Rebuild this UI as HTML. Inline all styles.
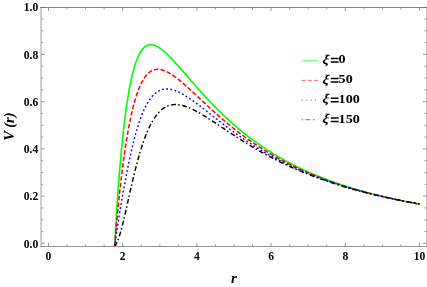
<!DOCTYPE html>
<html><head><meta charset="utf-8"><title>V(r)</title>
<style>
html,body{margin:0;padding:0;background:#fff;}
body{width:427px;height:287px;overflow:hidden;font-family:"Liberation Serif",serif;}
svg{display:block;}
svg text{font-family:"Liberation Serif",serif;font-weight:bold;fill:#000;}
</style></head><body>
<svg width="427" height="287" viewBox="0 0 427 287">
<rect x="0" y="0" width="427" height="287" fill="#ffffff"/>
<defs><clipPath id="plot"><rect x="41.3" y="7.4" width="385.0" height="239.0"/></clipPath><filter id="gs" x="0" y="0" width="427" height="287" filterUnits="userSpaceOnUse" color-interpolation-filters="sRGB"><feColorMatrix type="saturate" values="1"/></filter></defs>
<g clip-path="url(#plot)" fill="none" stroke-width="1.5" stroke-linejoin="round">
<path d="M114.70,246.40 L114.90,242.44 L115.11,238.57 L115.31,234.79 L115.51,231.10 L115.71,227.50 L115.92,223.97 L116.12,220.52 L116.32,217.15 L116.53,213.85 L116.73,210.61 L116.93,207.44 L117.13,204.33 L117.34,201.29 L117.54,198.30 L117.74,195.37 L117.94,192.50 L118.15,189.67 L118.35,186.90 L118.55,184.18 L118.76,181.51 L118.96,178.88 L119.16,176.31 L119.36,173.77 L119.57,171.28 L119.77,168.83 L119.97,166.42 L120.18,164.05 L120.38,161.72 L120.58,159.43 L120.78,157.18 L120.99,154.96 L121.19,152.78 L121.39,150.64 L121.59,148.53 L121.80,146.45 L122.00,144.41 L122.20,142.39 L122.41,140.42 L122.61,138.47 L122.81,136.55 L123.01,134.67 L123.22,132.81 L123.42,130.99 L123.62,129.19 L123.83,127.42 L124.03,125.68 L124.23,123.97 L124.43,122.29 L124.64,120.63 L124.84,119.00 L125.04,117.40 L125.24,115.82 L125.45,114.27 L125.65,112.74 L125.85,111.24 L126.06,109.76 L126.26,108.31 L126.46,106.88 L126.66,105.47 L126.87,104.09 L127.07,102.73 L127.27,101.40 L127.48,100.08 L127.68,98.79 L127.88,97.52 L128.08,96.28 L128.29,95.05 L128.49,93.84 L128.69,92.66 L128.89,91.50 L129.10,90.35 L129.30,89.23 L129.50,88.13 L129.71,87.04 L129.91,85.98 L130.11,84.93 L130.31,83.91 L130.52,82.90 L130.72,81.91 L130.92,80.94 L131.13,79.99 L131.33,79.05 L131.53,78.14 L131.73,77.24 L131.94,76.35 L132.14,75.49 L132.34,74.64 L132.54,73.80 L132.75,72.99 L132.95,72.18 L133.15,71.40 L133.36,70.63 L133.56,69.88 L133.76,69.14 L133.96,68.41 L134.17,67.70 L134.37,67.01 L134.57,66.33 L134.78,65.66 L134.98,65.01 L135.18,64.37 L135.38,63.75 L135.59,63.13 L135.79,62.54 L135.99,61.95 L136.19,61.38 L136.40,60.82 L136.60,60.27 L136.80,59.74 L137.01,59.22 L137.21,58.71 L137.41,58.21 L137.61,57.72 L137.82,57.25 L138.02,56.78 L138.22,56.33 L138.43,55.89 L138.63,55.46 L138.83,55.04 L139.03,54.63 L139.24,54.23 L139.44,53.84 L139.64,53.46 L139.84,53.10 L140.05,52.74 L140.25,52.39 L140.45,52.05 L140.66,51.72 L140.86,51.40 L141.06,51.09 L141.26,50.79 L141.47,50.49 L141.67,50.21 L141.87,49.93 L142.08,49.67 L142.28,49.41 L142.48,49.16 L142.68,48.91 L142.89,48.68 L143.09,48.45 L143.29,48.23 L143.49,48.02 L143.70,47.82 L143.90,47.62 L144.10,47.43 L144.31,47.25 L144.51,47.08 L144.71,46.91 L144.91,46.75 L145.12,46.60 L145.32,46.45 L145.52,46.31 L145.73,46.17 L145.93,46.05 L146.13,45.92 L146.33,45.81 L146.54,45.70 L146.74,45.60 L146.94,45.50 L147.14,45.41 L147.35,45.32 L147.55,45.24 L147.75,45.17 L147.96,45.10 L148.16,45.04 L148.36,44.98 L148.56,44.92 L148.77,44.88 L148.97,44.83 L149.17,44.80 L149.38,44.76 L149.58,44.73 L149.78,44.71 L149.98,44.69 L150.19,44.68 L150.39,44.67 L150.59,44.66 L150.79,44.66 L151.00,44.66 L151.20,44.67 L151.40,44.68 L151.61,44.70 L151.81,44.72 L152.01,44.74 L152.21,44.77 L152.42,44.80 L152.62,44.84 L152.82,44.88 L153.03,44.92 L153.23,44.97 L153.43,45.02 L153.63,45.07 L153.84,45.13 L154.04,45.19 L154.24,45.25 L154.44,45.32 L154.65,45.39 L154.85,45.47 L155.05,45.54 L155.26,45.62 L155.46,45.71 L155.66,45.79 L155.86,45.88 L156.07,45.97 L156.27,46.07 L156.47,46.16 L156.68,46.26 L156.88,46.37 L157.08,46.47 L157.28,46.58 L157.49,46.69 L157.69,46.80 L157.89,46.92 L158.09,47.04 L158.30,47.16 L158.50,47.28 L158.70,47.40 L158.91,47.53 L159.11,47.66 L159.31,47.79 L159.51,47.93 L159.72,48.06 L159.92,48.20 L160.12,48.34 L160.33,48.48 L160.53,48.63 L160.73,48.77 L160.93,48.92 L161.14,49.07 L161.34,49.22 L161.54,49.38 L161.74,49.53 L161.95,49.69 L162.15,49.85 L162.35,50.01 L162.56,50.17 L162.76,50.33 L162.96,50.50 L163.16,50.67 L163.37,50.83 L163.57,51.00 L163.77,51.18 L163.98,51.35 L164.18,51.52 L164.38,51.70 L164.58,51.88 L164.79,52.06 L164.99,52.24 L165.19,52.42 L165.39,52.60 L165.60,52.78 L165.80,52.97 L166.00,53.16 L166.21,53.34 L166.41,53.53 L166.61,53.72 L166.81,53.91 L167.02,54.11 L167.22,54.30 L168.06,55.12 L168.91,55.95 L169.75,56.80 L170.59,57.66 L171.44,58.54 L172.28,59.43 L173.13,60.33 L173.97,61.24 L174.81,62.16 L175.66,63.09 L176.50,64.02 L177.34,64.96 L178.19,65.91 L179.03,66.87 L179.88,67.82 L180.72,68.79 L181.56,69.75 L182.41,70.72 L183.25,71.69 L184.09,72.66 L184.94,73.64 L185.78,74.61 L186.63,75.58 L187.47,76.56 L188.31,77.53 L189.16,78.51 L190.00,79.48 L190.84,80.45 L191.69,81.42 L192.53,82.39 L193.38,83.36 L194.22,84.32 L195.06,85.28 L195.91,86.24 L196.75,87.20 L197.59,88.15 L198.44,89.10 L199.28,90.04 L200.13,90.99 L200.97,91.93 L201.81,92.86 L202.66,93.79 L203.50,94.72 L204.34,95.64 L205.19,96.55 L206.03,97.47 L206.88,98.37 L207.72,99.28 L208.56,100.18 L209.41,101.07 L210.25,101.96 L211.09,102.84 L211.94,103.72 L212.78,104.59 L213.63,105.46 L214.47,106.33 L215.31,107.18 L216.16,108.04 L217.00,108.89 L217.84,109.73 L218.69,110.56 L219.53,111.40 L220.38,112.22 L221.22,113.04 L222.06,113.86 L222.91,114.67 L223.75,115.47 L224.59,116.27 L225.44,117.06 L226.28,117.85 L227.13,118.64 L227.97,119.41 L228.81,120.18 L229.66,120.95 L230.50,121.71 L231.34,122.47 L232.19,123.22 L233.03,123.96 L233.88,124.70 L234.72,125.44 L235.56,126.16 L236.41,126.89 L237.25,127.61 L238.09,128.32 L238.94,129.03 L239.78,129.73 L240.63,130.42 L241.47,131.12 L242.31,131.80 L243.16,132.48 L244.00,133.16 L244.84,133.83 L245.69,134.50 L246.53,135.16 L247.38,135.82 L248.22,136.47 L249.06,137.11 L249.91,137.76 L250.75,138.39 L251.59,139.02 L252.44,139.65 L253.28,140.27 L254.13,140.89 L254.97,141.50 L255.81,142.11 L256.66,142.71 L257.50,143.31 L258.34,143.90 L259.19,144.49 L260.03,145.08 L260.88,145.66 L261.72,146.23 L262.56,146.81 L263.41,147.37 L264.25,147.93 L265.09,148.49 L265.94,149.05 L266.78,149.60 L267.63,150.14 L268.47,150.68 L269.31,151.22 L270.16,151.75 L271.00,152.28 L271.84,152.80 L272.69,153.32 L273.53,153.84 L274.38,154.35 L275.22,154.86 L276.06,155.37 L276.91,155.87 L277.75,156.36 L278.59,156.85 L279.44,157.34 L280.28,157.83 L281.13,158.31 L281.97,158.79 L282.81,159.26 L283.66,159.73 L284.50,160.20 L285.34,160.66 L286.19,161.12 L287.03,161.58 L287.88,162.03 L288.72,162.48 L289.56,162.93 L290.41,163.37 L291.25,163.81 L292.09,164.24 L292.94,164.67 L293.78,165.10 L294.63,165.53 L295.47,165.95 L296.31,166.37 L297.16,166.79 L298.00,167.20 L298.84,167.61 L299.69,168.02 L300.53,168.42 L301.38,168.82 L302.22,169.22 L303.06,169.61 L303.91,170.00 L304.75,170.39 L305.59,170.78 L306.44,171.16 L307.28,171.54 L308.13,171.92 L308.97,172.29 L309.81,172.66 L310.66,173.03 L311.50,173.40 L312.34,173.76 L313.19,174.12 L314.03,174.48 L314.88,174.83 L315.72,175.19 L316.56,175.54 L317.41,175.88 L318.25,176.23 L319.09,176.57 L319.94,176.91 L320.78,177.25 L321.63,177.58 L322.47,177.91 L323.31,178.24 L324.16,178.57 L325.00,178.90 L325.84,179.22 L326.69,179.54 L327.53,179.86 L328.38,180.17 L329.22,180.49 L330.06,180.80 L330.91,181.11 L331.75,181.41 L332.59,181.72 L333.44,182.02 L334.28,182.32 L335.13,182.62 L335.97,182.92 L336.81,183.21 L337.66,183.50 L338.50,183.79 L339.34,184.08 L340.19,184.37 L341.03,184.65 L341.88,184.93 L342.72,185.21 L343.56,185.49 L344.41,185.76 L345.25,186.04 L346.09,186.31 L346.94,186.58 L347.78,186.85 L348.63,187.12 L349.47,187.38 L350.31,187.64 L351.16,187.90 L352.00,188.16 L352.84,188.42 L353.69,188.68 L354.53,188.93 L355.38,189.18 L356.22,189.43 L357.06,189.68 L357.91,189.93 L358.75,190.17 L359.59,190.42 L360.44,190.66 L361.28,190.90 L362.13,191.14 L362.97,191.37 L363.81,191.61 L364.66,191.84 L365.50,192.08 L366.34,192.31 L367.19,192.54 L368.03,192.76 L368.88,192.99 L369.72,193.21 L370.56,193.44 L371.41,193.66 L372.25,193.88 L373.09,194.10 L373.94,194.32 L374.78,194.53 L375.63,194.75 L376.47,194.96 L377.31,195.17 L378.16,195.38 L379.00,195.59 L379.84,195.80 L380.69,196.00 L381.53,196.21 L382.38,196.41 L383.22,196.62 L384.06,196.82 L384.91,197.02 L385.75,197.21 L386.59,197.41 L387.44,197.61 L388.28,197.80 L389.13,198.00 L389.97,198.19 L390.81,198.38 L391.66,198.57 L392.50,198.76 L393.34,198.94 L394.19,199.13 L395.03,199.32 L395.88,199.50 L396.72,199.68 L397.56,199.86 L398.41,200.04 L399.25,200.22 L400.09,200.40 L400.94,200.58 L401.78,200.76 L402.63,200.93 L403.47,201.10 L404.31,201.28 L405.16,201.45 L406.00,201.62 L406.84,201.79 L407.69,201.96 L408.53,202.13 L409.38,202.29 L410.22,202.46 L411.06,202.62 L411.91,202.79 L412.75,202.95 L413.59,203.11 L414.44,203.27 L415.28,203.43 L416.13,203.59 L416.97,203.75 L417.81,203.90 L418.66,204.06 L419.50,204.21" stroke="#00ff00" stroke-width="1.6"/>
<path d="M114.70,246.40 L114.90,243.77 L115.11,241.18 L115.31,238.64 L115.51,236.15 L115.71,233.69 L115.92,231.28 L116.12,228.90 L116.32,226.57 L116.53,224.26 L116.73,222.00 L116.93,219.76 L117.13,217.56 L117.34,215.39 L117.54,213.24 L117.74,211.13 L117.94,209.04 L118.15,206.99 L118.35,204.95 L118.55,202.95 L118.76,200.97 L118.96,199.01 L119.16,197.08 L119.36,195.17 L119.57,193.28 L119.77,191.42 L119.97,189.58 L120.18,187.76 L120.38,185.96 L120.58,184.18 L120.78,182.42 L120.99,180.69 L121.19,178.97 L121.39,177.27 L121.59,175.60 L121.80,173.94 L122.00,172.30 L122.20,170.68 L122.41,169.08 L122.61,167.50 L122.81,165.93 L123.01,164.38 L123.22,162.86 L123.42,161.34 L123.62,159.85 L123.83,158.37 L124.03,156.91 L124.23,155.47 L124.43,154.05 L124.64,152.64 L124.84,151.25 L125.04,149.87 L125.24,148.51 L125.45,147.17 L125.65,145.85 L125.85,144.53 L126.06,143.24 L126.26,141.96 L126.46,140.70 L126.66,139.45 L126.87,138.22 L127.07,137.00 L127.27,135.80 L127.48,134.62 L127.68,133.45 L127.88,132.29 L128.08,131.15 L128.29,130.02 L128.49,128.91 L128.69,127.81 L128.89,126.73 L129.10,125.66 L129.30,124.60 L129.50,123.56 L129.71,122.53 L129.91,121.52 L130.11,120.52 L130.31,119.53 L130.52,118.56 L130.72,117.60 L130.92,116.66 L131.13,115.72 L131.33,114.80 L131.53,113.89 L131.73,113.00 L131.94,112.12 L132.14,111.25 L132.34,110.39 L132.54,109.55 L132.75,108.71 L132.95,107.89 L133.15,107.08 L133.36,106.29 L133.56,105.50 L133.76,104.73 L133.96,103.97 L134.17,103.22 L134.37,102.48 L134.57,101.75 L134.78,101.04 L134.98,100.33 L135.18,99.64 L135.38,98.95 L135.59,98.28 L135.79,97.62 L135.99,96.96 L136.19,96.32 L136.40,95.69 L136.60,95.07 L136.80,94.46 L137.01,93.86 L137.21,93.27 L137.41,92.68 L137.61,92.11 L137.82,91.55 L138.02,91.00 L138.22,90.45 L138.43,89.92 L138.63,89.39 L138.83,88.88 L139.03,88.37 L139.24,87.87 L139.44,87.38 L139.64,86.90 L139.84,86.43 L140.05,85.97 L140.25,85.51 L140.45,85.06 L140.66,84.63 L140.86,84.19 L141.06,83.77 L141.26,83.36 L141.47,82.95 L141.67,82.55 L141.87,82.16 L142.08,81.78 L142.28,81.40 L142.48,81.03 L142.68,80.67 L142.89,80.31 L143.09,79.97 L143.29,79.63 L143.49,79.29 L143.70,78.97 L143.90,78.65 L144.10,78.34 L144.31,78.03 L144.51,77.73 L144.71,77.44 L144.91,77.15 L145.12,76.87 L145.32,76.60 L145.52,76.33 L145.73,76.07 L145.93,75.82 L146.13,75.57 L146.33,75.32 L146.54,75.09 L146.74,74.86 L146.94,74.63 L147.14,74.41 L147.35,74.20 L147.55,73.99 L147.75,73.78 L147.96,73.59 L148.16,73.39 L148.36,73.21 L148.56,73.02 L148.77,72.85 L148.97,72.67 L149.17,72.51 L149.38,72.35 L149.58,72.19 L149.78,72.04 L149.98,71.89 L150.19,71.75 L150.39,71.61 L150.59,71.48 L150.79,71.35 L151.00,71.22 L151.20,71.10 L151.40,70.99 L151.61,70.88 L151.81,70.77 L152.01,70.67 L152.21,70.57 L152.42,70.47 L152.62,70.38 L152.82,70.30 L153.03,70.22 L153.23,70.14 L153.43,70.06 L153.63,69.99 L153.84,69.93 L154.04,69.86 L154.24,69.80 L154.44,69.75 L154.65,69.70 L154.85,69.65 L155.05,69.60 L155.26,69.56 L155.46,69.52 L155.66,69.49 L155.86,69.46 L156.07,69.43 L156.27,69.41 L156.47,69.38 L156.68,69.37 L156.88,69.35 L157.08,69.34 L157.28,69.33 L157.49,69.32 L157.69,69.32 L157.89,69.32 L158.09,69.32 L158.30,69.33 L158.50,69.34 L158.70,69.35 L158.91,69.36 L159.11,69.38 L159.31,69.40 L159.51,69.42 L159.72,69.45 L159.92,69.47 L160.12,69.50 L160.33,69.54 L160.53,69.57 L160.73,69.61 L160.93,69.65 L161.14,69.69 L161.34,69.73 L161.54,69.78 L161.74,69.83 L161.95,69.88 L162.15,69.94 L162.35,69.99 L162.56,70.05 L162.76,70.11 L162.96,70.17 L163.16,70.24 L163.37,70.30 L163.57,70.37 L163.77,70.44 L163.98,70.51 L164.18,70.59 L164.38,70.67 L164.58,70.74 L164.79,70.82 L164.99,70.91 L165.19,70.99 L165.39,71.08 L165.60,71.16 L165.80,71.25 L166.00,71.34 L166.21,71.44 L166.41,71.53 L166.61,71.63 L166.81,71.73 L167.02,71.82 L167.22,71.93 L168.06,72.36 L168.91,72.83 L169.75,73.31 L170.59,73.82 L171.44,74.35 L172.28,74.91 L173.13,75.48 L173.97,76.07 L174.81,76.67 L175.66,77.30 L176.50,77.93 L177.34,78.58 L178.19,79.25 L179.03,79.92 L179.88,80.61 L180.72,81.31 L181.56,82.02 L182.41,82.74 L183.25,83.46 L184.09,84.19 L184.94,84.94 L185.78,85.68 L186.63,86.44 L187.47,87.19 L188.31,87.96 L189.16,88.73 L190.00,89.50 L190.84,90.27 L191.69,91.05 L192.53,91.83 L193.38,92.62 L194.22,93.40 L195.06,94.19 L195.91,94.98 L196.75,95.77 L197.59,96.56 L198.44,97.35 L199.28,98.14 L200.13,98.93 L200.97,99.72 L201.81,100.51 L202.66,101.30 L203.50,102.09 L204.34,102.87 L205.19,103.66 L206.03,104.44 L206.88,105.23 L207.72,106.01 L208.56,106.78 L209.41,107.56 L210.25,108.33 L211.09,109.10 L211.94,109.87 L212.78,110.64 L213.63,111.40 L214.47,112.16 L215.31,112.91 L216.16,113.67 L217.00,114.42 L217.84,115.16 L218.69,115.91 L219.53,116.65 L220.38,117.38 L221.22,118.12 L222.06,118.84 L222.91,119.57 L223.75,120.29 L224.59,121.01 L225.44,121.72 L226.28,122.43 L227.13,123.14 L227.97,123.84 L228.81,124.54 L229.66,125.23 L230.50,125.92 L231.34,126.61 L232.19,127.29 L233.03,127.97 L233.88,128.64 L234.72,129.31 L235.56,129.97 L236.41,130.63 L237.25,131.29 L238.09,131.94 L238.94,132.59 L239.78,133.24 L240.63,133.88 L241.47,134.51 L242.31,135.14 L243.16,135.77 L244.00,136.39 L244.84,137.01 L245.69,137.63 L246.53,138.24 L247.38,138.84 L248.22,139.45 L249.06,140.04 L249.91,140.64 L250.75,141.23 L251.59,141.81 L252.44,142.40 L253.28,142.97 L254.13,143.55 L254.97,144.12 L255.81,144.68 L256.66,145.24 L257.50,145.80 L258.34,146.35 L259.19,146.90 L260.03,147.45 L260.88,147.99 L261.72,148.53 L262.56,149.06 L263.41,149.59 L264.25,150.12 L265.09,150.64 L265.94,151.16 L266.78,151.68 L267.63,152.19 L268.47,152.70 L269.31,153.20 L270.16,153.70 L271.00,154.20 L271.84,154.69 L272.69,155.18 L273.53,155.67 L274.38,156.15 L275.22,156.63 L276.06,157.10 L276.91,157.58 L277.75,158.04 L278.59,158.51 L279.44,158.97 L280.28,159.43 L281.13,159.88 L281.97,160.34 L282.81,160.78 L283.66,161.23 L284.50,161.67 L285.34,162.11 L286.19,162.54 L287.03,162.98 L287.88,163.41 L288.72,163.83 L289.56,164.25 L290.41,164.67 L291.25,165.09 L292.09,165.50 L292.94,165.91 L293.78,166.32 L294.63,166.73 L295.47,167.13 L296.31,167.53 L297.16,167.92 L298.00,168.32 L298.84,168.71 L299.69,169.09 L300.53,169.48 L301.38,169.86 L302.22,170.24 L303.06,170.62 L303.91,170.99 L304.75,171.36 L305.59,171.73 L306.44,172.09 L307.28,172.46 L308.13,172.82 L308.97,173.17 L309.81,173.53 L310.66,173.88 L311.50,174.23 L312.34,174.58 L313.19,174.93 L314.03,175.27 L314.88,175.61 L315.72,175.95 L316.56,176.28 L317.41,176.61 L318.25,176.95 L319.09,177.27 L319.94,177.60 L320.78,177.92 L321.63,178.24 L322.47,178.56 L323.31,178.88 L324.16,179.20 L325.00,179.51 L325.84,179.82 L326.69,180.13 L327.53,180.43 L328.38,180.74 L329.22,181.04 L330.06,181.34 L330.91,181.64 L331.75,181.93 L332.59,182.22 L333.44,182.52 L334.28,182.81 L335.13,183.09 L335.97,183.38 L336.81,183.66 L337.66,183.94 L338.50,184.22 L339.34,184.50 L340.19,184.78 L341.03,185.05 L341.88,185.32 L342.72,185.59 L343.56,185.86 L344.41,186.13 L345.25,186.39 L346.09,186.66 L346.94,186.92 L347.78,187.18 L348.63,187.43 L349.47,187.69 L350.31,187.94 L351.16,188.20 L352.00,188.45 L352.84,188.70 L353.69,188.94 L354.53,189.19 L355.38,189.44 L356.22,189.68 L357.06,189.92 L357.91,190.16 L358.75,190.40 L359.59,190.63 L360.44,190.87 L361.28,191.10 L362.13,191.33 L362.97,191.56 L363.81,191.79 L364.66,192.02 L365.50,192.24 L366.34,192.47 L367.19,192.69 L368.03,192.91 L368.88,193.13 L369.72,193.35 L370.56,193.57 L371.41,193.78 L372.25,194.00 L373.09,194.21 L373.94,194.42 L374.78,194.63 L375.63,194.84 L376.47,195.05 L377.31,195.26 L378.16,195.46 L379.00,195.67 L379.84,195.87 L380.69,196.07 L381.53,196.27 L382.38,196.47 L383.22,196.67 L384.06,196.86 L384.91,197.06 L385.75,197.25 L386.59,197.44 L387.44,197.63 L388.28,197.82 L389.13,198.01 L389.97,198.20 L390.81,198.39 L391.66,198.57 L392.50,198.76 L393.34,198.94 L394.19,199.12 L395.03,199.30 L395.88,199.48 L396.72,199.66 L397.56,199.84 L398.41,200.02 L399.25,200.19 L400.09,200.37 L400.94,200.54 L401.78,200.71 L402.63,200.88 L403.47,201.05 L404.31,201.22 L405.16,201.39 L406.00,201.56 L406.84,201.73 L407.69,201.89 L408.53,202.06 L409.38,202.22 L410.22,202.38 L411.06,202.54 L411.91,202.70 L412.75,202.86 L413.59,203.02 L414.44,203.18 L415.28,203.34 L416.13,203.49 L416.97,203.65 L417.81,203.80 L418.66,203.95 L419.50,204.11" stroke="#ff0000" stroke-width="1.5" stroke-dasharray="4.5 2.1"/>
<path d="M114.70,246.40 L114.90,244.79 L115.11,243.22 L115.31,241.68 L115.51,240.16 L115.71,238.67 L115.92,237.20 L116.12,235.75 L116.32,234.32 L116.53,232.91 L116.73,231.52 L116.93,230.15 L117.13,228.79 L117.34,227.44 L117.54,226.11 L117.74,224.78 L117.94,223.47 L118.15,222.17 L118.35,220.89 L118.55,219.61 L118.76,218.33 L118.96,217.07 L119.16,215.81 L119.36,214.57 L119.57,213.33 L119.77,212.09 L119.97,210.86 L120.18,209.64 L120.38,208.43 L120.58,207.22 L120.78,206.01 L120.99,204.82 L121.19,203.62 L121.39,202.44 L121.59,201.25 L121.80,200.08 L122.00,198.91 L122.20,197.74 L122.41,196.58 L122.61,195.42 L122.81,194.27 L123.01,193.12 L123.22,191.98 L123.42,190.84 L123.62,189.71 L123.83,188.59 L124.03,187.47 L124.23,186.35 L124.43,185.24 L124.64,184.14 L124.84,183.04 L125.04,181.95 L125.24,180.86 L125.45,179.78 L125.65,178.70 L125.85,177.63 L126.06,176.56 L126.26,175.50 L126.46,174.45 L126.66,173.40 L126.87,172.36 L127.07,171.33 L127.27,170.30 L127.48,169.28 L127.68,168.26 L127.88,167.25 L128.08,166.25 L128.29,165.26 L128.49,164.27 L128.69,163.28 L128.89,162.31 L129.10,161.34 L129.30,160.38 L129.50,159.42 L129.71,158.47 L129.91,157.53 L130.11,156.60 L130.31,155.67 L130.52,154.75 L130.72,153.84 L130.92,152.93 L131.13,152.03 L131.33,151.14 L131.53,150.26 L131.73,149.38 L131.94,148.51 L132.14,147.65 L132.34,146.79 L132.54,145.95 L132.75,145.11 L132.95,144.27 L133.15,143.45 L133.36,142.63 L133.56,141.82 L133.76,141.02 L133.96,140.22 L134.17,139.43 L134.37,138.65 L134.57,137.88 L134.78,137.11 L134.98,136.35 L135.18,135.60 L135.38,134.86 L135.59,134.12 L135.79,133.39 L135.99,132.67 L136.19,131.96 L136.40,131.25 L136.60,130.55 L136.80,129.86 L137.01,129.17 L137.21,128.50 L137.41,127.83 L137.61,127.16 L137.82,126.51 L138.02,125.86 L138.22,125.22 L138.43,124.58 L138.63,123.96 L138.83,123.34 L139.03,122.72 L139.24,122.12 L139.44,121.52 L139.64,120.92 L139.84,120.34 L140.05,119.76 L140.25,119.19 L140.45,118.63 L140.66,118.07 L140.86,117.52 L141.06,116.97 L141.26,116.44 L141.47,115.90 L141.67,115.38 L141.87,114.86 L142.08,114.35 L142.28,113.85 L142.48,113.35 L142.68,112.86 L142.89,112.37 L143.09,111.89 L143.29,111.42 L143.49,110.96 L143.70,110.50 L143.90,110.04 L144.10,109.59 L144.31,109.15 L144.51,108.72 L144.71,108.29 L144.91,107.87 L145.12,107.45 L145.32,107.04 L145.52,106.63 L145.73,106.23 L145.93,105.84 L146.13,105.45 L146.33,105.07 L146.54,104.69 L146.74,104.32 L146.94,103.96 L147.14,103.60 L147.35,103.24 L147.55,102.89 L147.75,102.55 L147.96,102.21 L148.16,101.88 L148.36,101.55 L148.56,101.23 L148.77,100.91 L148.97,100.60 L149.17,100.29 L149.38,99.99 L149.58,99.70 L149.78,99.40 L149.98,99.12 L150.19,98.84 L150.39,98.56 L150.59,98.29 L150.79,98.02 L151.00,97.76 L151.20,97.50 L151.40,97.25 L151.61,97.00 L151.81,96.76 L152.01,96.52 L152.21,96.28 L152.42,96.05 L152.62,95.83 L152.82,95.60 L153.03,95.39 L153.23,95.18 L153.43,94.97 L153.63,94.76 L153.84,94.56 L154.04,94.37 L154.24,94.18 L154.44,93.99 L154.65,93.81 L154.85,93.63 L155.05,93.45 L155.26,93.28 L155.46,93.11 L155.66,92.95 L155.86,92.79 L156.07,92.63 L156.27,92.48 L156.47,92.33 L156.68,92.19 L156.88,92.05 L157.08,91.91 L157.28,91.78 L157.49,91.64 L157.69,91.52 L157.89,91.39 L158.09,91.27 L158.30,91.16 L158.50,91.05 L158.70,90.94 L158.91,90.83 L159.11,90.73 L159.31,90.63 L159.51,90.53 L159.72,90.44 L159.92,90.35 L160.12,90.26 L160.33,90.18 L160.53,90.09 L160.73,90.02 L160.93,89.94 L161.14,89.87 L161.34,89.80 L161.54,89.73 L161.74,89.67 L161.95,89.61 L162.15,89.55 L162.35,89.50 L162.56,89.45 L162.76,89.40 L162.96,89.35 L163.16,89.31 L163.37,89.27 L163.57,89.23 L163.77,89.19 L163.98,89.16 L164.18,89.13 L164.38,89.10 L164.58,89.07 L164.79,89.05 L164.99,89.03 L165.19,89.01 L165.39,89.00 L165.60,88.98 L165.80,88.97 L166.00,88.96 L166.21,88.96 L166.41,88.95 L166.61,88.95 L166.81,88.95 L167.02,88.95 L167.22,88.96 L168.06,89.00 L168.91,89.07 L169.75,89.19 L170.59,89.33 L171.44,89.50 L172.28,89.71 L173.13,89.94 L173.97,90.20 L174.81,90.48 L175.66,90.79 L176.50,91.12 L177.34,91.47 L178.19,91.85 L179.03,92.24 L179.88,92.66 L180.72,93.09 L181.56,93.53 L182.41,94.00 L183.25,94.48 L184.09,94.97 L184.94,95.48 L185.78,96.00 L186.63,96.53 L187.47,97.07 L188.31,97.62 L189.16,98.19 L190.00,98.76 L190.84,99.34 L191.69,99.93 L192.53,100.53 L193.38,101.13 L194.22,101.74 L195.06,102.36 L195.91,102.98 L196.75,103.61 L197.59,104.24 L198.44,104.88 L199.28,105.52 L200.13,106.16 L200.97,106.81 L201.81,107.46 L202.66,108.11 L203.50,108.77 L204.34,109.43 L205.19,110.09 L206.03,110.75 L206.88,111.41 L207.72,112.07 L208.56,112.74 L209.41,113.40 L210.25,114.06 L211.09,114.73 L211.94,115.39 L212.78,116.05 L213.63,116.72 L214.47,117.38 L215.31,118.04 L216.16,118.70 L217.00,119.36 L217.84,120.02 L218.69,120.68 L219.53,121.33 L220.38,121.98 L221.22,122.64 L222.06,123.28 L222.91,123.93 L223.75,124.58 L224.59,125.22 L225.44,125.86 L226.28,126.50 L227.13,127.14 L227.97,127.77 L228.81,128.40 L229.66,129.03 L230.50,129.65 L231.34,130.28 L232.19,130.90 L233.03,131.51 L233.88,132.13 L234.72,132.74 L235.56,133.35 L236.41,133.95 L237.25,134.55 L238.09,135.15 L238.94,135.75 L239.78,136.34 L240.63,136.93 L241.47,137.51 L242.31,138.10 L243.16,138.67 L244.00,139.25 L244.84,139.82 L245.69,140.39 L246.53,140.96 L247.38,141.52 L248.22,142.08 L249.06,142.64 L249.91,143.19 L250.75,143.74 L251.59,144.28 L252.44,144.83 L253.28,145.36 L254.13,145.90 L254.97,146.43 L255.81,146.96 L256.66,147.49 L257.50,148.01 L258.34,148.53 L259.19,149.04 L260.03,149.55 L260.88,150.06 L261.72,150.57 L262.56,151.07 L263.41,151.57 L264.25,152.06 L265.09,152.55 L265.94,153.04 L266.78,153.53 L267.63,154.01 L268.47,154.49 L269.31,154.97 L270.16,155.44 L271.00,155.91 L271.84,156.37 L272.69,156.84 L273.53,157.30 L274.38,157.75 L275.22,158.21 L276.06,158.66 L276.91,159.10 L277.75,159.55 L278.59,159.99 L279.44,160.43 L280.28,160.86 L281.13,161.29 L281.97,161.72 L282.81,162.15 L283.66,162.57 L284.50,162.99 L285.34,163.41 L286.19,163.82 L287.03,164.23 L287.88,164.64 L288.72,165.05 L289.56,165.45 L290.41,165.85 L291.25,166.25 L292.09,166.64 L292.94,167.03 L293.78,167.42 L294.63,167.81 L295.47,168.19 L296.31,168.57 L297.16,168.95 L298.00,169.33 L298.84,169.70 L299.69,170.07 L300.53,170.44 L301.38,170.81 L302.22,171.17 L303.06,171.53 L303.91,171.89 L304.75,172.24 L305.59,172.59 L306.44,172.95 L307.28,173.29 L308.13,173.64 L308.97,173.98 L309.81,174.32 L310.66,174.66 L311.50,175.00 L312.34,175.33 L313.19,175.66 L314.03,175.99 L314.88,176.32 L315.72,176.64 L316.56,176.97 L317.41,177.29 L318.25,177.60 L319.09,177.92 L319.94,178.23 L320.78,178.55 L321.63,178.85 L322.47,179.16 L323.31,179.47 L324.16,179.77 L325.00,180.07 L325.84,180.37 L326.69,180.67 L327.53,180.96 L328.38,181.26 L329.22,181.55 L330.06,181.84 L330.91,182.12 L331.75,182.41 L332.59,182.69 L333.44,182.97 L334.28,183.25 L335.13,183.53 L335.97,183.81 L336.81,184.08 L337.66,184.35 L338.50,184.62 L339.34,184.89 L340.19,185.16 L341.03,185.42 L341.88,185.69 L342.72,185.95 L343.56,186.21 L344.41,186.47 L345.25,186.72 L346.09,186.98 L346.94,187.23 L347.78,187.48 L348.63,187.73 L349.47,187.98 L350.31,188.22 L351.16,188.47 L352.00,188.71 L352.84,188.95 L353.69,189.19 L354.53,189.43 L355.38,189.67 L356.22,189.91 L357.06,190.14 L357.91,190.37 L358.75,190.60 L359.59,190.83 L360.44,191.06 L361.28,191.29 L362.13,191.51 L362.97,191.74 L363.81,191.96 L364.66,192.18 L365.50,192.40 L366.34,192.62 L367.19,192.83 L368.03,193.05 L368.88,193.26 L369.72,193.47 L370.56,193.69 L371.41,193.90 L372.25,194.10 L373.09,194.31 L373.94,194.52 L374.78,194.72 L375.63,194.93 L376.47,195.13 L377.31,195.33 L378.16,195.53 L379.00,195.73 L379.84,195.92 L380.69,196.12 L381.53,196.31 L382.38,196.51 L383.22,196.70 L384.06,196.89 L384.91,197.08 L385.75,197.27 L386.59,197.46 L387.44,197.65 L388.28,197.83 L389.13,198.02 L389.97,198.20 L390.81,198.38 L391.66,198.56 L392.50,198.74 L393.34,198.92 L394.19,199.10 L395.03,199.28 L395.88,199.45 L396.72,199.63 L397.56,199.80 L398.41,199.97 L399.25,200.14 L400.09,200.31 L400.94,200.48 L401.78,200.65 L402.63,200.82 L403.47,200.99 L404.31,201.15 L405.16,201.32 L406.00,201.48 L406.84,201.64 L407.69,201.81 L408.53,201.97 L409.38,202.13 L410.22,202.29 L411.06,202.44 L411.91,202.60 L412.75,202.76 L413.59,202.91 L414.44,203.07 L415.28,203.22 L416.13,203.37 L416.97,203.53 L417.81,203.68 L418.66,203.83 L419.50,203.98" stroke="#0000ff" stroke-width="1.45" stroke-dasharray="1.8 2.4"/>
<path d="M114.70,246.40 L114.90,246.11 L115.11,245.81 L115.31,245.50 L115.51,245.17 L115.71,244.82 L115.92,244.47 L116.12,244.09 L116.32,243.70 L116.53,243.30 L116.73,242.88 L116.93,242.44 L117.13,241.99 L117.34,241.52 L117.54,241.04 L117.74,240.54 L117.94,240.02 L118.15,239.49 L118.35,238.94 L118.55,238.38 L118.76,237.80 L118.96,237.20 L119.16,236.60 L119.36,235.98 L119.57,235.34 L119.77,234.69 L119.97,234.03 L120.18,233.35 L120.38,232.67 L120.58,231.96 L120.78,231.25 L120.99,230.53 L121.19,229.79 L121.39,229.05 L121.59,228.29 L121.80,227.53 L122.00,226.75 L122.20,225.96 L122.41,225.17 L122.61,224.37 L122.81,223.56 L123.01,222.74 L123.22,221.91 L123.42,221.08 L123.62,220.24 L123.83,219.39 L124.03,218.54 L124.23,217.68 L124.43,216.82 L124.64,215.95 L124.84,215.08 L125.04,214.20 L125.24,213.32 L125.45,212.43 L125.65,211.54 L125.85,210.65 L126.06,209.76 L126.26,208.86 L126.46,207.96 L126.66,207.06 L126.87,206.15 L127.07,205.25 L127.27,204.34 L127.48,203.44 L127.68,202.53 L127.88,201.62 L128.08,200.71 L128.29,199.80 L128.49,198.90 L128.69,197.99 L128.89,197.08 L129.10,196.18 L129.30,195.27 L129.50,194.37 L129.71,193.46 L129.91,192.56 L130.11,191.66 L130.31,190.77 L130.52,189.87 L130.72,188.98 L130.92,188.09 L131.13,187.20 L131.33,186.32 L131.53,185.44 L131.73,184.56 L131.94,183.68 L132.14,182.81 L132.34,181.94 L132.54,181.08 L132.75,180.22 L132.95,179.36 L133.15,178.50 L133.36,177.65 L133.56,176.81 L133.76,175.97 L133.96,175.13 L134.17,174.30 L134.37,173.47 L134.57,172.65 L134.78,171.83 L134.98,171.01 L135.18,170.20 L135.38,169.40 L135.59,168.60 L135.79,167.80 L135.99,167.01 L136.19,166.23 L136.40,165.45 L136.60,164.67 L136.80,163.90 L137.01,163.14 L137.21,162.38 L137.41,161.63 L137.61,160.88 L137.82,160.14 L138.02,159.40 L138.22,158.67 L138.43,157.94 L138.63,157.22 L138.83,156.50 L139.03,155.79 L139.24,155.09 L139.44,154.39 L139.64,153.70 L139.84,153.01 L140.05,152.33 L140.25,151.66 L140.45,150.99 L140.66,150.32 L140.86,149.66 L141.06,149.01 L141.26,148.36 L141.47,147.72 L141.67,147.09 L141.87,146.46 L142.08,145.83 L142.28,145.21 L142.48,144.60 L142.68,143.99 L142.89,143.39 L143.09,142.80 L143.29,142.21 L143.49,141.62 L143.70,141.04 L143.90,140.47 L144.10,139.90 L144.31,139.34 L144.51,138.79 L144.71,138.24 L144.91,137.69 L145.12,137.15 L145.32,136.62 L145.52,136.09 L145.73,135.57 L145.93,135.05 L146.13,134.54 L146.33,134.03 L146.54,133.53 L146.74,133.04 L146.94,132.55 L147.14,132.07 L147.35,131.59 L147.55,131.11 L147.75,130.65 L147.96,130.18 L148.16,129.72 L148.36,129.27 L148.56,128.83 L148.77,128.38 L148.97,127.95 L149.17,127.52 L149.38,127.09 L149.58,126.67 L149.78,126.25 L149.98,125.84 L150.19,125.43 L150.39,125.03 L150.59,124.64 L150.79,124.25 L151.00,123.86 L151.20,123.48 L151.40,123.10 L151.61,122.73 L151.81,122.36 L152.01,122.00 L152.21,121.64 L152.42,121.29 L152.62,120.94 L152.82,120.60 L153.03,120.26 L153.23,119.92 L153.43,119.59 L153.63,119.27 L153.84,118.95 L154.04,118.63 L154.24,118.32 L154.44,118.01 L154.65,117.71 L154.85,117.41 L155.05,117.12 L155.26,116.83 L155.46,116.54 L155.66,116.26 L155.86,115.98 L156.07,115.71 L156.27,115.44 L156.47,115.17 L156.68,114.91 L156.88,114.65 L157.08,114.40 L157.28,114.15 L157.49,113.91 L157.69,113.67 L157.89,113.43 L158.09,113.19 L158.30,112.96 L158.50,112.74 L158.70,112.52 L158.91,112.30 L159.11,112.08 L159.31,111.87 L159.51,111.67 L159.72,111.46 L159.92,111.26 L160.12,111.07 L160.33,110.87 L160.53,110.68 L160.73,110.50 L160.93,110.31 L161.14,110.14 L161.34,109.96 L161.54,109.79 L161.74,109.62 L161.95,109.45 L162.15,109.29 L162.35,109.13 L162.56,108.97 L162.76,108.82 L162.96,108.67 L163.16,108.53 L163.37,108.38 L163.57,108.24 L163.77,108.11 L163.98,107.97 L164.18,107.84 L164.38,107.71 L164.58,107.59 L164.79,107.46 L164.99,107.35 L165.19,107.23 L165.39,107.12 L165.60,107.00 L165.80,106.90 L166.00,106.79 L166.21,106.69 L166.41,106.59 L166.61,106.49 L166.81,106.40 L167.02,106.31 L167.22,106.22 L168.06,105.88 L168.91,105.58 L169.75,105.32 L170.59,105.10 L171.44,104.92 L172.28,104.78 L173.13,104.68 L173.97,104.61 L174.81,104.57 L175.66,104.56 L176.50,104.59 L177.34,104.64 L178.19,104.72 L179.03,104.83 L179.88,104.96 L180.72,105.12 L181.56,105.30 L182.41,105.50 L183.25,105.72 L184.09,105.97 L184.94,106.23 L185.78,106.51 L186.63,106.81 L187.47,107.13 L188.31,107.46 L189.16,107.81 L190.00,108.17 L190.84,108.54 L191.69,108.93 L192.53,109.33 L193.38,109.75 L194.22,110.17 L195.06,110.61 L195.91,111.05 L196.75,111.50 L197.59,111.97 L198.44,112.44 L199.28,112.92 L200.13,113.41 L200.97,113.90 L201.81,114.40 L202.66,114.91 L203.50,115.42 L204.34,115.94 L205.19,116.46 L206.03,116.99 L206.88,117.52 L207.72,118.05 L208.56,118.59 L209.41,119.13 L210.25,119.68 L211.09,120.23 L211.94,120.78 L212.78,121.33 L213.63,121.89 L214.47,122.44 L215.31,123.00 L216.16,123.56 L217.00,124.12 L217.84,124.68 L218.69,125.25 L219.53,125.81 L220.38,126.37 L221.22,126.93 L222.06,127.50 L222.91,128.06 L223.75,128.62 L224.59,129.19 L225.44,129.75 L226.28,130.31 L227.13,130.87 L227.97,131.43 L228.81,131.99 L229.66,132.55 L230.50,133.10 L231.34,133.66 L232.19,134.21 L233.03,134.77 L233.88,135.32 L234.72,135.87 L235.56,136.41 L236.41,136.96 L237.25,137.50 L238.09,138.04 L238.94,138.58 L239.78,139.12 L240.63,139.66 L241.47,140.19 L242.31,140.72 L243.16,141.25 L244.00,141.78 L244.84,142.30 L245.69,142.83 L246.53,143.35 L247.38,143.86 L248.22,144.38 L249.06,144.89 L249.91,145.40 L250.75,145.91 L251.59,146.41 L252.44,146.92 L253.28,147.42 L254.13,147.91 L254.97,148.41 L255.81,148.90 L256.66,149.39 L257.50,149.88 L258.34,150.36 L259.19,150.84 L260.03,151.32 L260.88,151.79 L261.72,152.27 L262.56,152.74 L263.41,153.21 L264.25,153.67 L265.09,154.13 L265.94,154.59 L266.78,155.05 L267.63,155.50 L268.47,155.95 L269.31,156.40 L270.16,156.85 L271.00,157.29 L271.84,157.73 L272.69,158.17 L273.53,158.61 L274.38,159.04 L275.22,159.47 L276.06,159.90 L276.91,160.32 L277.75,160.74 L278.59,161.16 L279.44,161.58 L280.28,161.99 L281.13,162.40 L281.97,162.81 L282.81,163.22 L283.66,163.62 L284.50,164.02 L285.34,164.42 L286.19,164.81 L287.03,165.21 L287.88,165.60 L288.72,165.99 L289.56,166.37 L290.41,166.75 L291.25,167.13 L292.09,167.51 L292.94,167.89 L293.78,168.26 L294.63,168.63 L295.47,169.00 L296.31,169.37 L297.16,169.73 L298.00,170.09 L298.84,170.45 L299.69,170.81 L300.53,171.16 L301.38,171.51 L302.22,171.86 L303.06,172.21 L303.91,172.55 L304.75,172.90 L305.59,173.24 L306.44,173.57 L307.28,173.91 L308.13,174.24 L308.97,174.58 L309.81,174.91 L310.66,175.23 L311.50,175.56 L312.34,175.88 L313.19,176.20 L314.03,176.52 L314.88,176.84 L315.72,177.15 L316.56,177.46 L317.41,177.77 L318.25,178.08 L319.09,178.39 L319.94,178.69 L320.78,178.99 L321.63,179.29 L322.47,179.59 L323.31,179.89 L324.16,180.18 L325.00,180.48 L325.84,180.77 L326.69,181.06 L327.53,181.34 L328.38,181.63 L329.22,181.91 L330.06,182.19 L330.91,182.47 L331.75,182.75 L332.59,183.03 L333.44,183.30 L334.28,183.57 L335.13,183.84 L335.97,184.11 L336.81,184.38 L337.66,184.64 L338.50,184.91 L339.34,185.17 L340.19,185.43 L341.03,185.69 L341.88,185.95 L342.72,186.20 L343.56,186.45 L344.41,186.71 L345.25,186.96 L346.09,187.21 L346.94,187.45 L347.78,187.70 L348.63,187.94 L349.47,188.19 L350.31,188.43 L351.16,188.67 L352.00,188.90 L352.84,189.14 L353.69,189.38 L354.53,189.61 L355.38,189.84 L356.22,190.07 L357.06,190.30 L357.91,190.53 L358.75,190.76 L359.59,190.98 L360.44,191.20 L361.28,191.43 L362.13,191.65 L362.97,191.87 L363.81,192.08 L364.66,192.30 L365.50,192.52 L366.34,192.73 L367.19,192.94 L368.03,193.15 L368.88,193.36 L369.72,193.57 L370.56,193.78 L371.41,193.99 L372.25,194.19 L373.09,194.40 L373.94,194.60 L374.78,194.80 L375.63,195.00 L376.47,195.20 L377.31,195.40 L378.16,195.59 L379.00,195.79 L379.84,195.98 L380.69,196.17 L381.53,196.37 L382.38,196.56 L383.22,196.75 L384.06,196.93 L384.91,197.12 L385.75,197.31 L386.59,197.49 L387.44,197.68 L388.28,197.86 L389.13,198.04 L389.97,198.22 L390.81,198.40 L391.66,198.58 L392.50,198.76 L393.34,198.93 L394.19,199.11 L395.03,199.28 L395.88,199.46 L396.72,199.63 L397.56,199.80 L398.41,199.97 L399.25,200.14 L400.09,200.31 L400.94,200.48 L401.78,200.64 L402.63,200.81 L403.47,200.97 L404.31,201.14 L405.16,201.30 L406.00,201.46 L406.84,201.62 L407.69,201.78 L408.53,201.94 L409.38,202.10 L410.22,202.26 L411.06,202.41 L411.91,202.57 L412.75,202.72 L413.59,202.88 L414.44,203.03 L415.28,203.18 L416.13,203.33 L416.97,203.48 L417.81,203.63 L418.66,203.78 L419.50,203.93" stroke="#000000" stroke-width="1.45" stroke-dasharray="4.8 2.2 1.5 2.7"/>
</g>
<g shape-rendering="crispEdges">
<rect x="40" y="7" width="2" height="240" fill="#cfcfcf"/>
<rect x="426" y="7" width="1" height="240" fill="#c4c4c4"/>
<rect x="40" y="7" width="387" height="1" fill="#858585"/>
<rect x="40" y="246" width="387" height="1" fill="#969696"/>
</g>
<path d="M48.50,246.4 v-3.6 M48.50,7.4 v3.6 M67.05,246.4 v-2.1 M67.05,7.4 v2.1 M85.60,246.4 v-2.1 M85.60,7.4 v2.1 M104.15,246.4 v-2.1 M104.15,7.4 v2.1 M122.70,246.4 v-3.6 M122.70,7.4 v3.6 M141.25,246.4 v-2.1 M141.25,7.4 v2.1 M159.80,246.4 v-2.1 M159.80,7.4 v2.1 M178.35,246.4 v-2.1 M178.35,7.4 v2.1 M196.90,246.4 v-3.6 M196.90,7.4 v3.6 M215.45,246.4 v-2.1 M215.45,7.4 v2.1 M234.00,246.4 v-2.1 M234.00,7.4 v2.1 M252.55,246.4 v-2.1 M252.55,7.4 v2.1 M271.10,246.4 v-3.6 M271.10,7.4 v3.6 M289.65,246.4 v-2.1 M289.65,7.4 v2.1 M308.20,246.4 v-2.1 M308.20,7.4 v2.1 M326.75,246.4 v-2.1 M326.75,7.4 v2.1 M345.30,246.4 v-3.6 M345.30,7.4 v3.6 M363.85,246.4 v-2.1 M363.85,7.4 v2.1 M382.40,246.4 v-2.1 M382.40,7.4 v2.1 M400.95,246.4 v-2.1 M400.95,7.4 v2.1 M419.50,246.4 v-3.6 M419.50,7.4 v3.6 M41.3,243.40 h3.4 M426.3,243.40 h-3.4 M41.3,231.59 h2.0 M426.3,231.59 h-2.0 M41.3,219.78 h2.0 M426.3,219.78 h-2.0 M41.3,207.96 h2.0 M426.3,207.96 h-2.0 M41.3,196.15 h3.4 M426.3,196.15 h-3.4 M41.3,184.34 h2.0 M426.3,184.34 h-2.0 M41.3,172.52 h2.0 M426.3,172.52 h-2.0 M41.3,160.71 h2.0 M426.3,160.71 h-2.0 M41.3,148.90 h3.4 M426.3,148.90 h-3.4 M41.3,137.09 h2.0 M426.3,137.09 h-2.0 M41.3,125.28 h2.0 M426.3,125.28 h-2.0 M41.3,113.46 h2.0 M426.3,113.46 h-2.0 M41.3,101.65 h3.4 M426.3,101.65 h-3.4 M41.3,89.84 h2.0 M426.3,89.84 h-2.0 M41.3,78.02 h2.0 M426.3,78.02 h-2.0 M41.3,66.21 h2.0 M426.3,66.21 h-2.0 M41.3,54.40 h3.4 M426.3,54.40 h-3.4 M41.3,42.59 h2.0 M426.3,42.59 h-2.0 M41.3,30.78 h2.0 M426.3,30.78 h-2.0 M41.3,18.96 h2.0 M426.3,18.96 h-2.0 M41.3,7.40 h3.4 M426.3,7.40 h-3.4" stroke="#6e6e6e" stroke-width="0.7" fill="none"/>
<g filter="url(#gs)">
<text x="48.5" y="260.0" font-size="11.6" text-anchor="middle">0</text>
<text x="122.7" y="260.0" font-size="11.6" text-anchor="middle">2</text>
<text x="196.9" y="260.0" font-size="11.6" text-anchor="middle">4</text>
<text x="271.1" y="260.0" font-size="11.6" text-anchor="middle">6</text>
<text x="345.3" y="260.0" font-size="11.6" text-anchor="middle">8</text>
<text x="419.5" y="260.0" font-size="11.6" text-anchor="middle">10</text>
<text x="38.2" y="247.7" font-size="11.6" text-anchor="end">0.0</text>
<text x="38.2" y="200.4" font-size="11.6" text-anchor="end">0.2</text>
<text x="38.2" y="153.2" font-size="11.6" text-anchor="end">0.4</text>
<text x="38.2" y="105.9" font-size="11.6" text-anchor="end">0.6</text>
<text x="38.2" y="58.7" font-size="11.6" text-anchor="end">0.8</text>
<text x="38.2" y="11.4" font-size="11.6" text-anchor="end">1.0</text>
<text x="234" y="283.4" font-size="15" font-style="italic" text-anchor="middle">r</text>
<text transform="translate(14.0,126.6) rotate(-90)" font-size="14.5" font-style="italic" text-anchor="middle">V (r)</text>
<path d="M301.7,60.35 H317.9" stroke="#00ff00" stroke-width="0.6" fill="none" />
<text transform="translate(322.0,63.70) skewX(-9) scale(1.1,1)" font-size="13.4" font-style="italic">ξ</text>
<path d="M330.8,58.60 h7.8 M330.8,62.10 h7.8" stroke="#000" stroke-width="1.5" fill="none"/>
<text transform="translate(338.6,63.40) scale(1.10,1)" font-size="12.8">0</text>
<path d="M301.7,80.42 H317.9" stroke="#ff0000" stroke-width="0.6" fill="none" stroke-dasharray="4.1 2.1"/>
<text transform="translate(322.0,83.53) skewX(-9) scale(1.1,1)" font-size="13.4" font-style="italic">ξ</text>
<path d="M330.8,78.43 h7.8 M330.8,81.93 h7.8" stroke="#000" stroke-width="1.5" fill="none"/>
<text transform="translate(338.6,83.23) scale(1.10,1)" font-size="12.8">50</text>
<path d="M301.7,100.25 H317.9" stroke="#0000ff" stroke-width="0.6" fill="none" stroke-dasharray="1.2 3.2"/>
<text transform="translate(322.0,103.36) skewX(-9) scale(1.1,1)" font-size="13.4" font-style="italic">ξ</text>
<path d="M330.8,98.26 h7.8 M330.8,101.76 h7.8" stroke="#000" stroke-width="1.5" fill="none"/>
<text transform="translate(338.6,103.06) scale(1.10,1)" font-size="12.8">100</text>
<path d="M301.8,119.72 H317.9" stroke="#000000" stroke-width="0.6" fill="none" stroke-dasharray="1.3 2.3 4.6 3.0 1.4 20"/>
<text transform="translate(322.0,123.19) skewX(-9) scale(1.1,1)" font-size="13.4" font-style="italic">ξ</text>
<path d="M330.8,118.09 h7.8 M330.8,121.59 h7.8" stroke="#000" stroke-width="1.5" fill="none"/>
<text transform="translate(338.6,122.89) scale(1.10,1)" font-size="12.8">150</text>
</g>
</svg>
</body></html>
